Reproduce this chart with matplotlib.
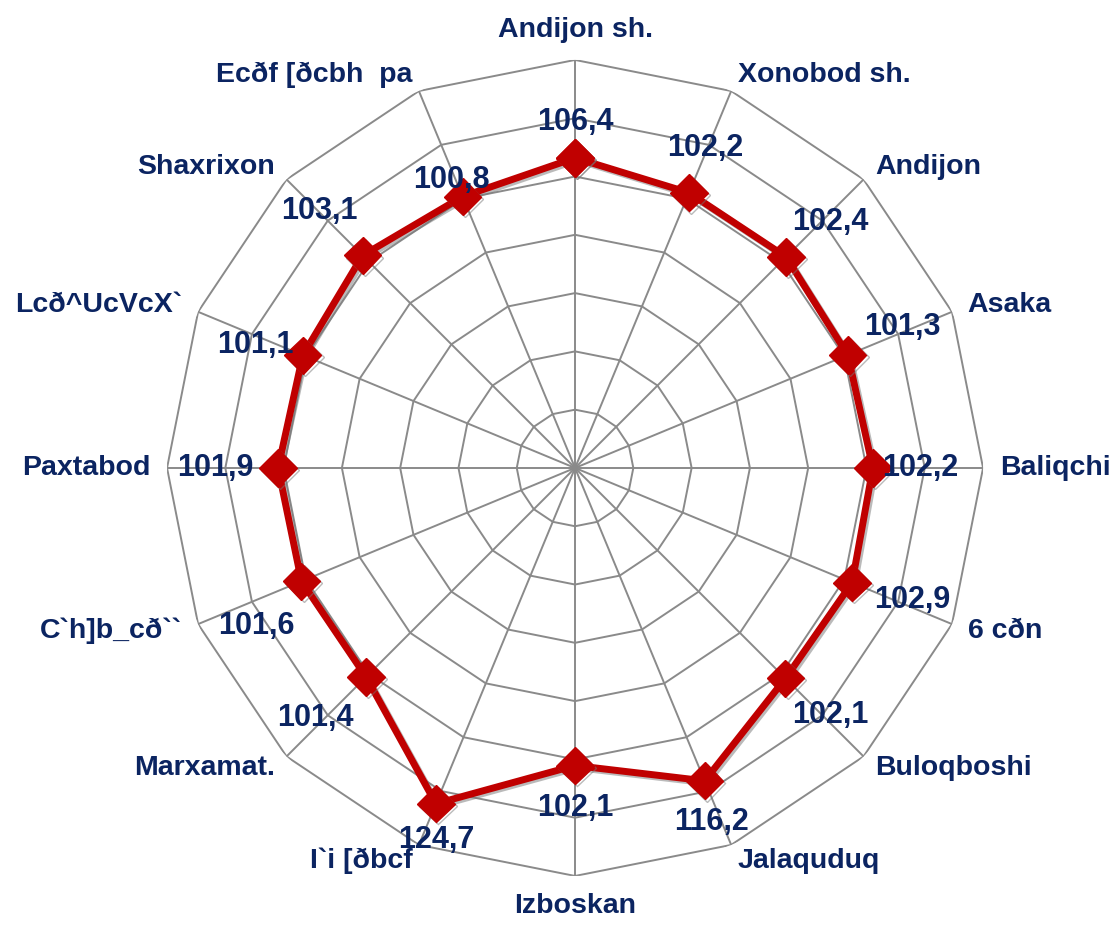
import numpy as np
import matplotlib
matplotlib.use('Agg')
import matplotlib.pyplot as plt
from matplotlib import patheffects as pe

categories = ["Andijon sh.", "Xonobod sh.", "Andijon", "Asaka", "Baliqchi", "6 cðn",
              "Buloqboshi", "Jalaquduq", "Izboskan", "I`i [ðbcf", "Marxamat.",
              "C`h]b_cð``", "Paxtabod", "Lcð^UcVcX`", "Shaxrixon", "Ecðf [ðcbh  pa"]
values = [106.4, 102.2, 102.4, 101.3, 102.2, 102.9, 102.1, 116.2,
          102.1, 124.7, 101.4, 101.6, 101.9, 101.1, 103.1, 100.8]
r_ticks = [20, 40, 60, 80, 100, 120, 140]

# label offsets from marker (pixels, x right / y down)
label_offsets_px = [(0, -36), (16, -45), (44, -35), (55, -28), (47, 0), (60, 17),
                    (45, 37), (7, 41), (0, 42), (0, 36), (-51, 41), (-45, 45),
                    (-63, 0), (-47, -10), (-43, -44), (-11, -17)]

navy = '#0B2461'
red = '#C00000'
grid_c = '#8A8A8A'
plt.rcParams['font.family'] = ['Liberation Sans', 'DejaVu Sans']

fig = plt.figure(figsize=(11.18, 9.25), dpi=100)
ax = fig.add_axes([0.1494, 0.053, 0.7299, 0.8822], projection='polar')
ax.set_theta_zero_location('N')
ax.set_theta_direction(-1)
ax.set_ylim(0, r_ticks[-1])
ax.axis('off')

n = len(categories)
theta = np.arange(n) * 2 * np.pi / n
theta_c = np.append(theta, theta[0])

for r in r_ticks:
    ax.plot(theta_c, [r] * (n + 1), color=grid_c, lw=1.4, zorder=1)
for t in theta:
    ax.plot([t, t], [0, r_ticks[-1]], color=grid_c, lw=1.4, zorder=1)

vals_c = np.append(values, values[0])
ax.plot(theta_c, vals_c, color=red, lw=5, marker='D', markersize=19,
        markeredgecolor=red, zorder=3, solid_joinstyle='miter',
        path_effects=[pe.SimpleLineShadow(offset=(1.5, -1.5), shadow_color='#777777', alpha=0.5),
                      pe.Normal()])

for t, v, (dx, dy) in zip(theta, values, label_offsets_px):
    ax.annotate(f"{v:.1f}".replace('.', ','), xy=(t, v),
                xytext=(dx * 0.72, -dy * 0.72), textcoords='offset points',
                ha='center', va='center', fontsize=22, fontweight='bold',
                color=navy, zorder=5)

r_lab = r_ticks[-1] * 425 / 408
for t, lab in zip(theta, categories):
    s, c = np.sin(t), np.cos(t)
    if s > 0.1:
        ha = 'left'
    elif s < -0.1:
        ha = 'right'
    else:
        ha = 'center'
    if abs(s) > 0.1:
        va = 'center'
    elif c > 0:
        va = 'bottom'
    else:
        va = 'top'
    ax.text(t, r_lab, lab, ha=ha, va=va, fontsize=20.5, fontweight='bold',
            color=navy, clip_on=False)

fig.savefig('out.png', dpi=100)
